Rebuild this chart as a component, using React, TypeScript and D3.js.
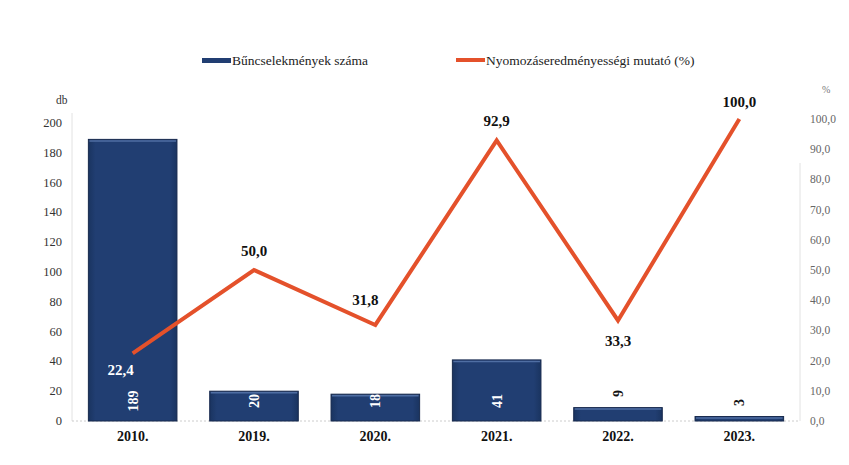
import React from "react";
import * as d3 from "d3";

const categories = ["2010.", "2019.", "2020.", "2021.", "2022.", "2023."];
const crimeCounts = [189, 20, 18, 41, 9, 3];
const successRate = [22.4, 50.0, 31.8, 92.9, 33.3, 100.0];
const leftTicks = [0, 20, 40, 60, 80, 100, 120, 140, 160, 180, 200];
const rightTicks = [0, 10, 20, 30, 40, 50, 60, 70, 80, 90, 100];
const barLegend = "Bűncselekmények száma";
const lineLegend = "Nyomozáseredményességi mutató (%)";

const W = 849, H = 465;
const M = { left: 72, right: 800, top: 123, bottom: 421 };
const FONT = "Liberation Serif, Times New Roman, DejaVu Serif, serif";
const BAR = "#213e72";
const LINE = "#e4512b";

export default function App() {
  const x = d3.scaleBand<string>().domain(categories).range([M.left, M.right]).paddingInner(0.27).paddingOuter(0.135);
  const yL = d3.scaleLinear().domain([0, 200]).range([M.bottom, M.top]);
  const yR = d3.scaleLinear().domain([0, 100]).range([M.bottom, M.top - 4]);
  const cx = (c: string) => (x(c) as number) + x.bandwidth() / 2;
  const line = d3.line<number>().x((_, i) => cx(categories[i])).y((d) => yR(d));
  const fmt = (v: number) => v.toFixed(1).replace(".", ",");

  const lblPos: [number, number, string][] = [
    [-12, 22, "#ffffff"],
    [0, -14, "#111"],
    [-10, -20, "#111"],
    [0, -14, "#111"],
    [0, 26, "#111"],
    [0, -12, "#111"],
  ];
  const txt = { fontFamily: FONT } as React.CSSProperties;

  return (
    <svg width={W} height={H} style={{ position: "absolute", left: 0, top: 0, background: "#fff" }}>
      <defs>
        <linearGradient id="barg" x1="0" x2="1" y1="0" y2="0">
          <stop offset="0" stopColor="#1a3460" />
          <stop offset="0.08" stopColor={BAR} />
          <stop offset="0.92" stopColor={BAR} />
          <stop offset="1" stopColor="#1a3460" />
        </linearGradient>
      </defs>
      <g style={txt}>
        {/* legend */}
        <rect x={202} y={58} width={29} height={5} fill={BAR} />
        <text x={232} y={65} fontSize={13.5} fill="#222">{barLegend}</text>
        <rect x={456} y={58} width={29} height={4} fill={LINE} />
        <text x={486} y={65} fontSize={13.5} fill="#222">{lineLegend}</text>

        {/* axis lines */}
        <line x1={M.left} x2={M.left} y1={M.top - 10} y2={M.bottom} stroke="#e2e2e2" />
        <line x1={M.right} x2={M.right} y1={M.top + 40} y2={M.bottom} stroke="#e2e2e2" />
        <line x1={M.left} x2={M.right} y1={M.bottom} y2={M.bottom} stroke="#ccc" strokeDasharray="2,2" />

        {/* left ticks */}
        <text x={56} y={104} fontSize={11.5} fill="#333">db</text>
        {leftTicks.map((t) => (
          <text key={t} x={62} y={yL(t) + 4} textAnchor="end" fontSize={12.5} fill="#333">{t}</text>
        ))}
        {/* right ticks */}
        <text x={822} y={93} fontSize={10} fill="#777">%</text>
        {rightTicks.map((t) => (
          <text key={t} x={810} y={yR(t) + 4} fontSize={11.5} fill="#666">{fmt(t)}</text>
        ))}

        {/* bars */}
        {crimeCounts.map((v, i) => {
          const c = categories[i];
          const bx = x(c) as number;
          const top = yL(v);
          return (
            <g key={c}>
              <rect x={bx} y={top} width={x.bandwidth()} height={M.bottom - top} fill="url(#barg)" stroke="#17294d" strokeWidth={1} />
              <line x1={bx + 1} x2={bx + x.bandwidth() - 1} y1={top + 1.5} y2={top + 1.5} stroke="#4f6ea3" strokeWidth={1.5} />
            </g>
          );
        })}
        {/* bar labels */}
        {crimeCounts.map((v, i) => {
          const c = categories[i];
          const inside = v >= 15;
          const ly = inside ? M.bottom - 20 : yL(v) - 14;
          return (
            <text key={c} transform={`translate(${cx(c) + 5},${ly}) rotate(-90)`} textAnchor="middle"
              fontSize={14} fontWeight="bold" fill={inside ? "#fff" : "#111"}>{v}</text>
          );
        })}

        {/* line */}
        <path d={line(successRate) as string} fill="none" stroke={LINE} strokeWidth={4} strokeLinejoin="miter" />
        {successRate.map((v, i) => {
          const [dx, dy, col] = lblPos[i];
          return (
            <text key={i} x={cx(categories[i]) + dx} y={yR(v) + dy} textAnchor="middle"
              fontSize={15} fontWeight="bold" fill={col}>{fmt(v)}</text>
          );
        })}

        {/* x labels */}
        {categories.map((c) => (
          <text key={c} x={cx(c)} y={441} textAnchor="middle" fontSize={14} fontWeight="bold" fill="#111">{c}</text>
        ))}
      </g>
    </svg>
  );
}
